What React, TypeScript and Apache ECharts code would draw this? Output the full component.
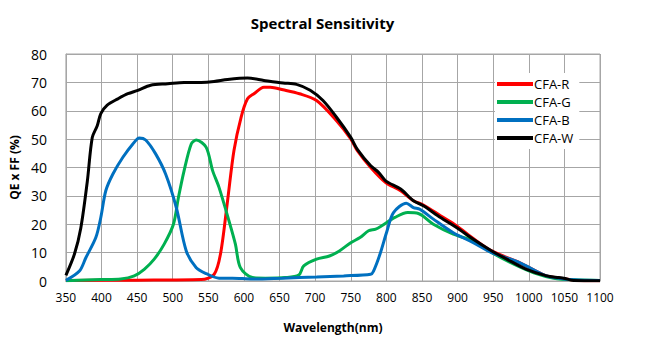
import React, { useEffect, useRef } from "react";
import * as echarts from "echarts";

const xTicks = [350, 400, 450, 500, 550, 600, 650, 700, 750, 800, 850, 900, 950, 1000, 1050, 1100];

const redX = [350, 450, 540, 558, 567, 577, 586, 596, 605, 614, 628, 637, 655, 678, 702, 730, 750, 759, 778, 799, 820, 838, 852, 876, 899, 922, 948, 987, 1025, 1050, 1065, 1100];
const redY = [0.2, 0.3, 0.5, 2.3, 9.4, 28.3, 46, 57.7, 64.2, 66, 68.3, 68.3, 67.4, 66, 63.6, 56.5, 50.1, 46, 40, 34.7, 31.8, 28.3, 26.8, 23, 19.4, 15, 10.6, 6.5, 1.8, 0.8, 0.2, 0.1];

const greenX = [350, 399, 427, 446, 460, 474, 488, 501, 508, 516, 526, 533, 547, 556, 565, 579, 588, 595, 612, 630, 658, 677, 684, 702, 720, 734, 750, 763, 775, 785, 793, 812, 830, 845, 866, 894, 922, 948, 979, 1007, 1035, 1063, 1100];
const greenY = [0.1, 0.5, 0.7, 1.8, 4.1, 7.7, 13, 20, 29.4, 38.9, 48.3, 49.7, 47.1, 38.9, 33, 21.2, 13, 4.7, 1.2, 1, 1.2, 2.1, 5.3, 7.7, 8.8, 10.6, 13.5, 15.3, 17.7, 18.3, 19.4, 22.4, 24.1, 23.8, 20, 16.5, 14.1, 10, 5.9, 2.9, 1, 0.4, 0.2];

const blueX = [350, 369, 378, 392, 399, 406, 416, 430, 444, 453, 462, 476, 490, 505, 519, 533, 547, 565, 584, 612, 654, 702, 740, 778, 782, 791, 801, 810, 828, 838, 847, 866, 894, 922, 948, 987, 1025, 1063, 1100];
const blueY = [0.2, 3.5, 8.2, 15.3, 22.4, 31.8, 37.7, 43.6, 48.3, 50.4, 49.7, 44.8, 37.7, 25.9, 10.6, 4.7, 2.6, 1, 1, 0.7, 1, 1.4, 1.8, 2.4, 3.5, 9.4, 17.7, 24.1, 27.4, 25.9, 25.3, 21.8, 17, 13.5, 10, 6.5, 1.8, 0.4, 0.2];

const whiteX = [350, 362, 371, 380, 387, 394, 399, 408, 423, 437, 451, 469, 493, 516, 540, 558, 577, 605, 628, 655, 674, 693, 711, 730, 750, 759, 778, 789, 799, 820, 838, 852, 876, 899, 922, 948, 969, 997, 1025, 1042, 1049, 1063, 1100];
const whiteY = [2, 9.5, 18.8, 35, 50.6, 54.7, 59, 62, 64.2, 66, 67.2, 69, 69.5, 70, 70, 70.3, 71, 71.5, 70.7, 69.8, 69.3, 67.2, 63.6, 57.7, 50.6, 46.5, 40.6, 38.3, 35.3, 32.4, 28.3, 26.5, 22.4, 18.8, 14.7, 10.6, 7.7, 4.1, 1.8, 1.2, 1.0, 0.2, 0.1];

const seriesNames = ["CFA-R", "CFA-G", "CFA-B", "CFA-W"];
const seriesColors = ["#ff0000", "#00b050", "#0070c0", "#000000"];

const zip = (xs: number[], ys: number[]) => xs.map((x, i) => [x, ys[i]]);

export default function App() {
  const ref = useRef<HTMLDivElement>(null);
  useEffect(() => {
    const chart = echarts.init(ref.current!, null, { renderer: "svg" });
    const datasets = [zip(redX, redY), zip(greenX, greenY), zip(blueX, blueY), zip(whiteX, whiteY)];
    const font = "'Open Sans', 'Liberation Sans', sans-serif";
    chart.setOption({
      animation: false,
      backgroundColor: "#ffffff",
      textStyle: { fontFamily: font },
      title: {
        text: "Spectral Sensitivity",
        left: "center",
        top: 10,
        textStyle: { fontSize: 15, fontWeight: "bold", color: "#000", fontFamily: font },
      },
      legend: {
        orient: "vertical",
        left: 495,
        top: 73,
        itemWidth: 36,
        itemHeight: 4,
        itemGap: 0,
        icon: "rect",
        backgroundColor: "#ffffff",
        padding: [2, 6, 2, 2],
        textStyle: { fontSize: 13, color: "#000", fontFamily: font, padding: [0, 0, 0, -4], lineHeight: 18, height: 18 },
        data: seriesNames,
      },
      grid: { left: 65, right: 45, top: 54, bottom: 79, show: true, borderColor: "#a6a6a6", borderWidth: 1 },
      xAxis: {
        type: "value",
        min: 350,
        max: 1100,
        interval: 50,
        name: "Wavelength(nm)",
        nameLocation: "middle",
        nameGap: 40,
        nameTextStyle: { fontSize: 12, fontWeight: "bold", color: "#000" },
        axisLine: { lineStyle: { color: "#a6a6a6" } },
        axisTick: { show: false },
        axisLabel: { fontSize: 12, color: "#000", margin: 10, formatter: (v: number) => String(v) },
        splitLine: { show: true, lineStyle: { color: "#a6a6a6" } },
      },
      yAxis: {
        type: "value",
        min: 0,
        max: 80,
        interval: 10,
        name: "QE x FF (%)",
        nameLocation: "middle",
        nameGap: 36,
        nameTextStyle: { fontSize: 12, fontWeight: "bold", color: "#000" },
        axisLine: { show: true, lineStyle: { color: "#a6a6a6" } },
        axisTick: { show: false },
        axisLabel: { fontSize: 14, color: "#000", margin: 19 },
        splitLine: { show: true, lineStyle: { color: "#a6a6a6" } },
      },
      series: seriesNames.map((name, i) => ({
        name,
        type: "line",
        data: datasets[i],
        smooth: 0.3,
        showSymbol: false,
        symbol: "none",
        color: seriesColors[i],
        lineStyle: { width: 3, color: seriesColors[i] },
        z: 2 + i,
      })),
    });
    return () => chart.dispose();
  }, []);
  return <div ref={ref} style={{ width: 645, height: 360, position: "absolute", left: 0, top: 0 }} />;
}
